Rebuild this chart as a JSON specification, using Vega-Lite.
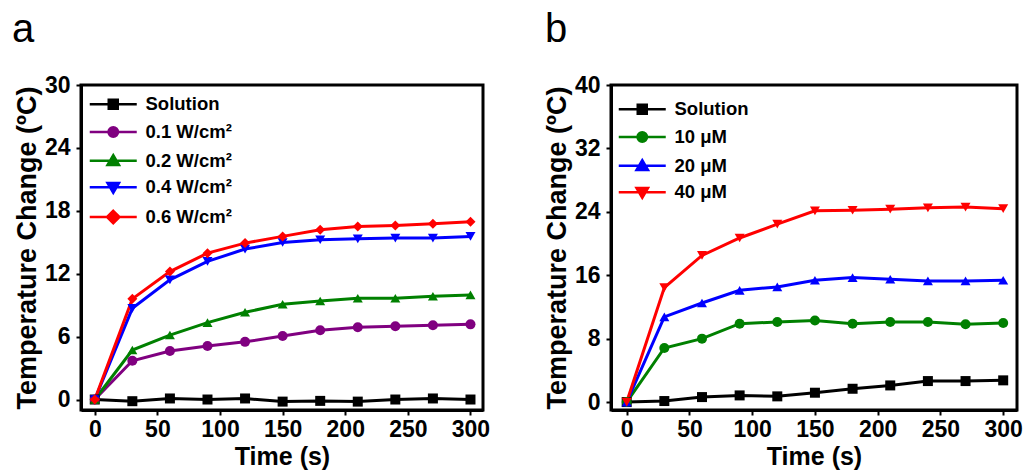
{
  "$schema": "https://vega.github.io/schema/vega-lite/v6.json",
  "padding": {"left": 10, "top": 8, "right": 5, "bottom": 0},
  "background": "white",
  "datasets": {
    "a": [
      {"s":"Solution","t":0,"v":0},{"s":"Solution","t":30,"v":-0.16},{"s":"Solution","t":60,"v":0.1},{"s":"Solution","t":90,"v":0},{"s":"Solution","t":120,"v":0.1},{"s":"Solution","t":150,"v":-0.2},{"s":"Solution","t":180,"v":-0.13},{"s":"Solution","t":210,"v":-0.2},{"s":"Solution","t":240,"v":0},{"s":"Solution","t":270,"v":0.1},{"s":"Solution","t":300,"v":0},
      {"s":"0.1 W/cm²","t":0,"v":0},{"s":"0.1 W/cm²","t":30,"v":3.7},{"s":"0.1 W/cm²","t":60,"v":4.62},{"s":"0.1 W/cm²","t":90,"v":5.1},{"s":"0.1 W/cm²","t":120,"v":5.5},{"s":"0.1 W/cm²","t":150,"v":6.06},{"s":"0.1 W/cm²","t":180,"v":6.6},{"s":"0.1 W/cm²","t":210,"v":6.89},{"s":"0.1 W/cm²","t":240,"v":6.98},{"s":"0.1 W/cm²","t":270,"v":7.08},{"s":"0.1 W/cm²","t":300,"v":7.17},
      {"s":"0.2 W/cm²","t":0,"v":0},{"s":"0.2 W/cm²","t":30,"v":4.72},{"s":"0.2 W/cm²","t":60,"v":6.15},{"s":"0.2 W/cm²","t":90,"v":7.33},{"s":"0.2 W/cm²","t":120,"v":8.32},{"s":"0.2 W/cm²","t":150,"v":9.09},{"s":"0.2 W/cm²","t":180,"v":9.4},{"s":"0.2 W/cm²","t":210,"v":9.66},{"s":"0.2 W/cm²","t":240,"v":9.66},{"s":"0.2 W/cm²","t":270,"v":9.85},{"s":"0.2 W/cm²","t":300,"v":9.98},
      {"s":"0.4 W/cm²","t":0,"v":0},{"s":"0.4 W/cm²","t":30,"v":8.7},{"s":"0.4 W/cm²","t":60,"v":11.41},{"s":"0.4 W/cm²","t":90,"v":13.17},{"s":"0.4 W/cm²","t":120,"v":14.35},{"s":"0.4 W/cm²","t":150,"v":14.98},{"s":"0.4 W/cm²","t":180,"v":15.24},{"s":"0.4 W/cm²","t":210,"v":15.33},{"s":"0.4 W/cm²","t":240,"v":15.4},{"s":"0.4 W/cm²","t":270,"v":15.4},{"s":"0.4 W/cm²","t":300,"v":15.56},
      {"s":"0.6 W/cm²","t":0,"v":0},{"s":"0.6 W/cm²","t":30,"v":9.6},{"s":"0.6 W/cm²","t":60,"v":12.2},{"s":"0.6 W/cm²","t":90,"v":13.96},{"s":"0.6 W/cm²","t":120,"v":14.92},{"s":"0.6 W/cm²","t":150,"v":15.56},{"s":"0.6 W/cm²","t":180,"v":16.19},{"s":"0.6 W/cm²","t":210,"v":16.5},{"s":"0.6 W/cm²","t":240,"v":16.6},{"s":"0.6 W/cm²","t":270,"v":16.77},{"s":"0.6 W/cm²","t":300,"v":16.96}
    ],
    "b": [
      {"s":"Solution","t":0,"v":0},{"s":"Solution","t":30,"v":0.13},{"s":"Solution","t":60,"v":0.63},{"s":"Solution","t":90,"v":0.84},{"s":"Solution","t":120,"v":0.72},{"s":"Solution","t":150,"v":1.18},{"s":"Solution","t":180,"v":1.68},{"s":"Solution","t":210,"v":2.1},{"s":"Solution","t":240,"v":2.65},{"s":"Solution","t":270,"v":2.65},{"s":"Solution","t":300,"v":2.74},
      {"s":"10 μM","t":0,"v":0},{"s":"10 μM","t":30,"v":6.82},{"s":"10 μM","t":60,"v":8.0},{"s":"10 μM","t":90,"v":9.89},{"s":"10 μM","t":120,"v":10.1},{"s":"10 μM","t":150,"v":10.3},{"s":"10 μM","t":180,"v":9.89},{"s":"10 μM","t":210,"v":10.1},{"s":"10 μM","t":240,"v":10.1},{"s":"10 μM","t":270,"v":9.81},{"s":"10 μM","t":300,"v":9.98},
      {"s":"20 μM","t":0,"v":0},{"s":"20 μM","t":30,"v":10.74},{"s":"20 μM","t":60,"v":12.5},{"s":"20 μM","t":90,"v":14.1},{"s":"20 μM","t":120,"v":14.53},{"s":"20 μM","t":150,"v":15.37},{"s":"20 μM","t":180,"v":15.7},{"s":"20 μM","t":210,"v":15.5},{"s":"20 μM","t":240,"v":15.28},{"s":"20 μM","t":270,"v":15.28},{"s":"20 μM","t":300,"v":15.37},
      {"s":"40 μM","t":0,"v":0},{"s":"40 μM","t":30,"v":14.44},{"s":"40 μM","t":60,"v":18.5},{"s":"40 μM","t":90,"v":20.7},{"s":"40 μM","t":120,"v":22.44},{"s":"40 μM","t":150,"v":24.13},{"s":"40 μM","t":180,"v":24.2},{"s":"40 μM","t":210,"v":24.34},{"s":"40 μM","t":240,"v":24.5},{"s":"40 μM","t":270,"v":24.6},{"s":"40 μM","t":300,"v":24.4}
    ]
  },
  "hconcat": [
    {
      "width": 402,
      "height": 325,
      "title": {"text": "a", "anchor": "start", "frame": "group", "fontSize": 40, "fontWeight": "normal", "font": "Liberation Sans", "color": "black", "dx": -69, "baseline": "alphabetic", "offset": -8},
      "data": {"name": "a"},
      "encoding": {
        "x": {"field": "t", "type": "quantitative", "scale": {"domain": [-11, 310], "nice": false, "zero": false}, "axis": {"values": [0, 50, 100, 150, 200, 250, 300], "title": "Time (s)"}},
        "y": {"field": "v", "type": "quantitative", "scale": {"domain": [-1, 30], "nice": false, "zero": false}, "axis": {"values": [0, 6, 12, 18, 24, 30], "title": "Temperature Change (ºC)"}}
      },
      "layer": [
        {
          "mark": {"type": "line", "strokeWidth": 3},
          "encoding": {
            "color": {"field": "s", "type": "nominal", "legend": null,
              "scale": {"domain": ["Solution", "0.1 W/cm²", "0.2 W/cm²", "0.4 W/cm²", "0.6 W/cm²"], "range": ["#000000", "#800080", "#008000", "#0000ff", "#ff0000"]}}
          }
        },
        {
          "mark": {"type": "point", "filled": true, "size": 100, "opacity": 1},
          "encoding": {
            "color": {"field": "s", "type": "nominal", "legend": null,
              "scale": {"domain": ["Solution", "0.1 W/cm²", "0.2 W/cm²", "0.4 W/cm²", "0.6 W/cm²"], "range": ["#000000", "#800080", "#008000", "#0000ff", "#ff0000"]}},
            "shape": {"field": "s", "type": "nominal", "legend": null,
              "scale": {"domain": ["Solution", "0.1 W/cm²", "0.2 W/cm²", "0.4 W/cm²", "0.6 W/cm²"], "range": ["square", "circle", "triangle-up", "triangle-down", "diamond"]}}
          }
        },
        {
          "transform": [{"filter": "datum.t < -100"}],
          "mark": {"type": "point", "filled": true},
          "encoding": {
            "fill": {"field": "s", "type": "nominal",
              "scale": {"domain": ["Solution", "0.1 W/cm²", "0.2 W/cm²", "0.4 W/cm²", "0.6 W/cm²"], "range": ["#000000", "#800080", "#008000", "#0000ff", "#ff0000"]},
              "legend": {"title": null, "orient": "none", "legendX": 23, "legendY": 10}},
            "stroke": {"field": "s", "type": "nominal",
              "scale": {"domain": ["Solution", "0.1 W/cm²", "0.2 W/cm²", "0.4 W/cm²", "0.6 W/cm²"], "range": ["#000000", "#800080", "#008000", "#0000ff", "#ff0000"]},
              "legend": {"title": null, "orient": "none", "legendX": 23, "legendY": 10}},
            "shape": {"field": "s", "type": "nominal",
              "scale": {"domain": ["Solution", "0.1 W/cm²", "0.2 W/cm²", "0.4 W/cm²", "0.6 W/cm²"], "range": ["M-4.7,0H4.7M-0.9,-0.9H0.9V0.9H-0.9Z", "M-4.7,0H4.7M0.95,0A0.95,0.95,0,1,1,-0.95,0A0.95,0.95,0,1,1,0.95,0Z", "M-4.7,0H4.7M0,-1.1L1.15,0.85H-1.15Z", "M-4.7,0H4.7M0,1.1L1.15,-0.85H-1.15Z", "M-4.7,0H4.7M0,-1.25L1.25,0L0,1.25L-1.25,0Z"]},
              "legend": {"title": null, "orient": "none", "legendX": 23, "legendY": 10}}
          }
        }
      ],
      "resolve": {"scale": {"shape": "independent", "fill": "independent", "stroke": "independent"}}
    },
    {
      "width": 406,
      "height": 325,
      "title": {"text": "b", "anchor": "start", "frame": "group", "fontSize": 40, "fontWeight": "normal", "font": "Liberation Sans", "color": "black", "dx": -66, "baseline": "alphabetic", "offset": -8},
      "data": {"name": "b"},
      "encoding": {
        "x": {"field": "t", "type": "quantitative", "scale": {"domain": [-12.5, 311], "nice": false, "zero": false}, "axis": {"values": [0, 50, 100, 150, 200, 250, 300], "title": "Time (s)"}},
        "y": {"field": "v", "type": "quantitative", "scale": {"domain": [-1, 40], "nice": false, "zero": false}, "axis": {"values": [0, 8, 16, 24, 32, 40], "title": "Temperature Change (ºC)"}}
      },
      "layer": [
        {
          "mark": {"type": "line", "strokeWidth": 3},
          "encoding": {
            "color": {"field": "s", "type": "nominal", "legend": null,
              "scale": {"domain": ["Solution", "10 μM", "20 μM", "40 μM"], "range": ["#000000", "#008000", "#0000ff", "#ff0000"]}}
          }
        },
        {
          "mark": {"type": "point", "filled": true, "size": 100, "opacity": 1},
          "encoding": {
            "color": {"field": "s", "type": "nominal", "legend": null,
              "scale": {"domain": ["Solution", "10 μM", "20 μM", "40 μM"], "range": ["#000000", "#008000", "#0000ff", "#ff0000"]}},
            "shape": {"field": "s", "type": "nominal", "legend": null,
              "scale": {"domain": ["Solution", "10 μM", "20 μM", "40 μM"], "range": ["square", "circle", "triangle-up", "triangle-down"]}}
          }
        },
        {
          "transform": [{"filter": "datum.t < -100"}],
          "mark": {"type": "point", "filled": true},
          "encoding": {
            "fill": {"field": "s", "type": "nominal",
              "scale": {"domain": ["Solution", "10 μM", "20 μM", "40 μM"], "range": ["#000000", "#008000", "#0000ff", "#ff0000"]},
              "legend": {"title": null, "orient": "none", "legendX": 22, "legendY": 15}},
            "stroke": {"field": "s", "type": "nominal",
              "scale": {"domain": ["Solution", "10 μM", "20 μM", "40 μM"], "range": ["#000000", "#008000", "#0000ff", "#ff0000"]},
              "legend": {"title": null, "orient": "none", "legendX": 22, "legendY": 15}},
            "shape": {"field": "s", "type": "nominal",
              "scale": {"domain": ["Solution", "10 μM", "20 μM", "40 μM"], "range": ["M-4.7,0H4.7M-0.9,-0.9H0.9V0.9H-0.9Z", "M-4.7,0H4.7M0.95,0A0.95,0.95,0,1,1,-0.95,0A0.95,0.95,0,1,1,0.95,0Z", "M-4.7,0H4.7M0,-1.1L1.15,0.85H-1.15Z", "M-4.7,0H4.7M0,1.1L1.15,-0.85H-1.15Z"]},
              "legend": {"title": null, "orient": "none", "legendX": 22, "legendY": 15}}
          }
        }
      ],
      "resolve": {"scale": {"shape": "independent", "fill": "independent", "stroke": "independent"}}
    }
  ],
  "spacing": 49,
  "resolve": {"scale": {"color": "independent", "shape": "independent", "fill": "independent", "stroke": "independent"}},
  "config": {
    "font": "Liberation Sans",
    "view": {"stroke": "black", "strokeWidth": 3},
    "axis": {
      "grid": false,
      "domainColor": "black", "domainWidth": 3,
      "tickColor": "black", "tickWidth": 2, "tickSize": 5,
      "labelFont": "Liberation Sans", "labelFontSize": 23, "labelFontWeight": "bold", "labelColor": "black", "labelPadding": 6,
      "titleFont": "Liberation Sans", "titleFontSize": 27, "titleFontWeight": "bold", "titleColor": "black"
    },
    "axisX": {"titleFontSize": 25, "titlePadding": 3, "labelPadding": 3},
    "axisY": {"titlePadding": 3, "labelAngle": 0},
    "legend": {
      "labelFont": "Liberation Sans", "labelFontSize": 18.5, "labelFontWeight": "bold", "labelColor": "black",
      "symbolSize": 100, "symbolStrokeWidth": 2.5, "symbolOpacity": 1, "rowPadding": 7.7, "labelOffset": 23, "symbolOffset": 0, "padding": 0
    }
  }
}
